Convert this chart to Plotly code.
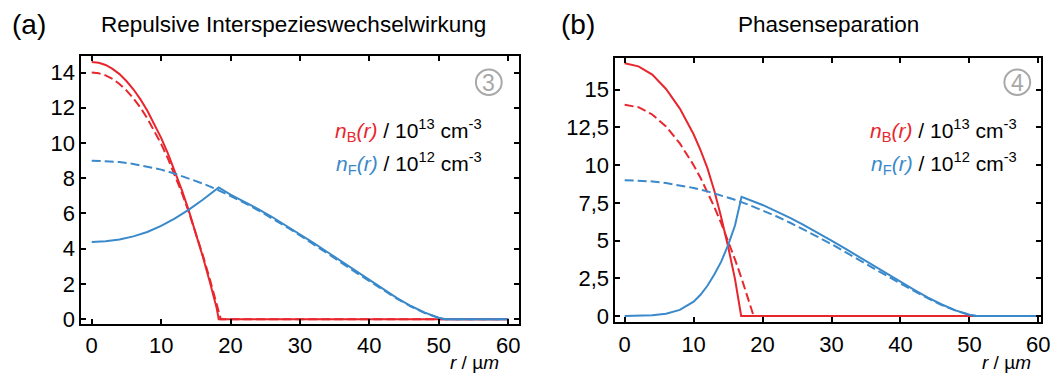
import plotly.graph_objects as go

# ---------------- data (densities vs. radius r in µm) ----------------
# (a) repulsive interspecies interaction
a_rB = [0, 1, 2, 3, 4, 5, 6, 7, 8, 9, 10, 11, 12, 13, 14, 15, 16, 17, 18, 18.3, 60]
a_nB = [14.6, 14.56, 14.43, 14.21, 13.91, 13.52, 13.05, 12.49, 11.84, 11.11, 10.29,
        9.38, 8.39, 7.31, 6.15, 4.90, 3.56, 2.14, 0.63, 0.0, 0.0]
a_rB0 = [0, 1, 2, 3, 4, 5, 6, 7, 8, 9, 10, 11, 12, 13, 14, 15, 16, 17, 18, 18.6, 60]
a_nB0 = [14.0, 13.96, 13.84, 13.64, 13.35, 12.99, 12.54, 12.02, 11.41, 10.72, 9.95,
         9.10, 8.17, 7.16, 6.07, 4.89, 3.64, 2.30, 0.89, 0.0, 0.0]
a_rF = [0, 2, 4, 6, 8, 10, 12, 14, 16, 17, 18, 18.3, 20, 22, 24, 26, 28, 30, 32, 34,
        36, 38, 40, 42, 44, 46, 48, 50, 51, 60]
a_nF = [4.38, 4.42, 4.52, 4.70, 4.95, 5.30, 5.72, 6.22, 6.78, 7.08, 7.40, 7.48, 7.07,
        6.68, 6.25, 5.80, 5.32, 4.83, 4.32, 3.80, 3.27, 2.74, 2.21, 1.69, 1.20, 0.75,
        0.37, 0.08, 0.0, 0.0]
a_rF0 = [0, 2, 4, 6, 8, 10, 12, 14, 16, 18, 20, 22, 24, 26, 28, 30, 32, 34, 36, 38,
         40, 42, 44, 46, 48, 50, 51, 60]
a_nF0 = [9.00, 8.98, 8.92, 8.81, 8.67, 8.49, 8.26, 8.00, 7.70, 7.37, 7.01, 6.61, 6.18,
         5.73, 5.25, 4.76, 4.25, 3.73, 3.20, 2.67, 2.15, 1.64, 1.16, 0.72, 0.35, 0.07,
         0.0, 0.0]

# (b) phase separation
b_rB = [0, 2, 4, 6, 8, 10, 11, 12, 13, 14, 15, 16, 16.9, 60]
b_nB = [16.75, 16.55, 16.0, 15.05, 13.75, 12.05, 11.0, 9.8, 8.3, 6.55, 4.6, 2.45, 0.0, 0.0]
b_rB0 = [0, 2, 4, 6, 8, 10, 11, 12, 13, 14, 15, 16, 17, 18, 18.7, 60]
b_nB0 = [14.0, 13.84, 13.36, 12.56, 11.44, 10.0, 9.16, 8.23, 7.23, 6.15, 4.99, 3.75,
         2.43, 1.03, 0.0, 0.0]
b_rF = [0, 2, 4, 6, 8, 10, 11, 12, 13, 14, 15, 16, 16.95, 20, 22, 24, 26, 28, 30,
        32, 34, 36, 38, 40, 42, 44, 46, 48, 50, 51, 60]
b_nF = [0.0, 0.01, 0.05, 0.15, 0.4, 0.95, 1.4, 2.0, 2.75, 3.6, 4.7, 6.0, 7.9,
        7.36, 6.95, 6.50, 6.02, 5.52, 5.00, 4.46, 3.91, 3.36, 2.80, 2.26, 1.73, 1.22,
        0.76, 0.37, 0.08, 0.0, 0.0]
b_rF0 = a_rF0
b_nF0 = a_nF0

x_ticks = [0, 10, 20, 30, 40, 50, 60]
a_y_ticks = [0, 2, 4, 6, 8, 10, 12, 14]
b_y_ticks = [0, 2.5, 5, 7.5, 10, 12.5, 15]
b_y_ticktext = ["0", "2,5", "5", "7,5", "10", "12,5", "15"]

RED = "#E8262D"
BLUE = "#3A89CA"
DASH = "9px,4px"
W, H = 1061, 383

fig = go.Figure()


def add(xs, ys, color, dashed, xa, ya):
    fig.add_trace(go.Scatter(
        x=xs, y=ys, mode="lines", xaxis=xa, yaxis=ya, showlegend=False,
        line=dict(color=color, width=2, dash=DASH if dashed else "solid"),
        hoverinfo="skip"))


# red first, blue on top
add(a_rB0, a_nB0, RED, True, "x", "y")
add(a_rB, a_nB, RED, False, "x", "y")
add(a_rF0, a_nF0, BLUE, True, "x", "y")
add(a_rF, a_nF, BLUE, False, "x", "y")

add(b_rB0, b_nB0, RED, True, "x2", "y2")
add(b_rB, b_nB, RED, False, "x2", "y2")
add(b_rF0, b_nF0, BLUE, True, "x2", "y2")
add(b_rF, b_nF, BLUE, False, "x2", "y2")

FONT = "Liberation Sans, Arial, sans-serif"
axis_common = dict(
    showline=True, linecolor="black", linewidth=2, mirror="allticks",
    ticks="inside", ticklen=5, tickwidth=1.5, tickcolor="black",
    showgrid=False, zeroline=False,
    tickfont=dict(family=FONT, size=22, color="black"),
)


def px_x(p):
    return p / W


def px_y(p):
    return 1 - p / H


fig.update_layout(
    width=W, height=H, margin=dict(l=0, r=0, t=0, b=0),
    paper_bgcolor="white", plot_bgcolor="white",
    xaxis=dict(domain=[px_x(82), px_x(523)], range=[-1.5, 61.5],
               tickvals=x_ticks, anchor="y", ticklabelstandoff=1, **axis_common),
    yaxis=dict(domain=[px_y(330.7), px_y(57)], range=[-0.26, 14.95],
               tickvals=a_y_ticks, anchor="x", **axis_common),
    xaxis2=dict(domain=[px_x(620.7), px_x(1050)], range=[-1.34, 60.4],
                tickvals=x_ticks, anchor="y2", ticklabelstandoff=1, **axis_common),
    yaxis2=dict(domain=[px_y(329.3), px_y(59)], range=[-0.43, 17.12],
                tickvals=b_y_ticks, ticktext=b_y_ticktext, anchor="x2", **axis_common),
)

ann = []


def text(x, y, s, size, color="black", xanchor="center"):
    ann.append(dict(x=px_x(x), y=px_y(y), xref="paper", yref="paper", text=s,
                    showarrow=False, xanchor=xanchor, yanchor="middle",
                    font=dict(family=FONT, size=size, color=color)))


# panel labels and titles
text(29, 25, "(a)", 28)
text(296, 25, "Repulsive Interspezieswechselwirkung", 22.5)
text(583, 25, "(b)", 28)
text(836, 25, "Phasenseparation", 22.5)

# legends inside the panels
lab_B = (f"<span style='color:{RED}'><i>n</i><sub>B</sub><i>(r)</i></span>"
         " / 10<sup>13</sup> cm<sup>-3</sup>")
lab_F = (f"<span style='color:{BLUE}'><i>n</i><sub>F</sub><i>(r)</i></span>"
         " / 10<sup>12</sup> cm<sup>-3</sup>")
for xr in (488, 1028):
    text(xr, 133, lab_B, 21, xanchor="right")
    text(xr, 167, lab_F, 21, xanchor="right")

# axis titles, tucked under the right end of each x axis
for xc in (479, 1015):
    ann.append(dict(x=px_x(xc), y=0, xref="paper", yref="paper",
                    text="<i>r</i> / µ<i>m</i>", showarrow=False,
                    xanchor="center", yanchor="bottom",
                    font=dict(family=FONT, size=19, color="black")))

# circled panel numbers
shapes = []
for cx, num in ((493, "3"), (1026, "4")):
    r = 13
    shapes.append(dict(type="circle", xref="paper", yref="paper",
                       x0=px_x(cx - r), x1=px_x(cx + r),
                       y0=px_y(84 + r), y1=px_y(84 - r),
                       line=dict(color="#A8A8A8", width=2)))
    text(cx, 85, num, 23, color="#A8A8A8")

fig.update_layout(annotations=ann, shapes=shapes)
fig.write_html("out.html")
